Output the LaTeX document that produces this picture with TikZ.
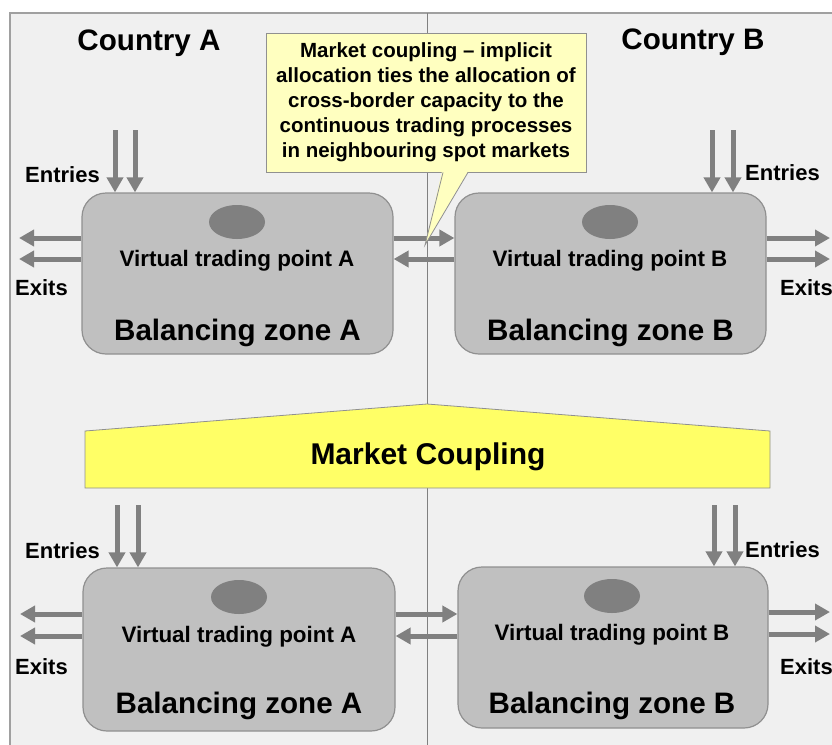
\documentclass[tikz,border=0pt]{standalone}
\usepackage{fontspec}
\setmainfont{Liberation Sans}
\usetikzlibrary{arrows.meta,shapes.geometric}
\definecolor{panel}{HTML}{F0F0F0}
\definecolor{framegray}{HTML}{A0A0A0}
\definecolor{zonefill}{HTML}{C0C0C0}
\definecolor{zoneline}{HTML}{909090}
\definecolor{darkgray}{HTML}{808080}
\definecolor{notefill}{HTML}{FFFFC0}
\definecolor{mcfill}{HTML}{FFFF66}
\begin{document}
\begin{tikzpicture}[x=1pt,y=-1pt,
  zone/.style={draw=zoneline,line width=1.2pt,fill=zonefill,rounded corners=24pt,
    minimum width=#1,minimum height=161pt,inner sep=0pt},
  vtp/.style={fill=darkgray,ellipse,minimum width=56pt,minimum height=34pt,inner sep=0pt},
  flow/.style={draw=darkgray,line width=5pt,-{Triangle[width=16pt,length=15pt]}},
  small/.style={font=\fontsize{22.4}{26}\selectfont\bfseries,inner sep=0pt},
  big/.style={font=\fontsize{29.6}{34}\selectfont\bfseries,inner sep=0pt},
]
\useasboundingbox (0,0) rectangle (832,744);
\fill[white] (0,0) rectangle (832,744);
% country panel and border between the countries
\fill[panel] (10,13) rectangle (834,746);
\draw[framegray,line width=1.2pt] (10,746) -- (10,13) -- (834,13);
\coordinate (divtop) at (427,13);
\coordinate (divbot) at (427,746);
\draw[darkgray,line width=0.9pt] (divtop) -- (divbot);

% market coupling banner
\draw[zoneline,line width=0.8pt,fill=mcfill] (85,431) -- (427,404) -- (770,431) -- (770,488) -- (85,488) -- cycle;
\node[big,font=\fontsize{30}{34}\selectfont\bfseries,anchor=base] (mc) at (428,464) {Market Coupling};

% titles
\node[big,anchor=base] (cA) at (149,50) {Country A};
\node[big,anchor=base] (cB) at (693,49) {Country B};

% balancing zones
\node[zone=311pt] (tA) at (237.5,273.5) {};
\node[zone=311pt] (tB) at (610.5,273.5) {};
\node[zone=312pt,minimum height=163pt] (bA) at (239,649.5) {};
\node[zone=310pt] (bB) at (613,647.5) {};

% virtual trading points
\node[vtp] (pA) at (237,222) {};
\node[vtp] (pB) at (610,222) {};
\node[vtp] (qA) at (239,597) {};
\node[vtp] (qB) at (612,596) {};

\node[small,anchor=base] (vA) at (237,266) {Virtual trading point A};
\node[small,anchor=base] (vB) at (610,266) {Virtual trading point B};
\node[small,anchor=base] (wA) at (239,642) {Virtual trading point A};
\node[small,anchor=base] (wB) at (612,640) {Virtual trading point B};

\node[big,anchor=base] (zA) at (237.5,340) {Balancing zone A};
\node[big,anchor=base] (zB) at (610.5,340) {Balancing zone B};
\node[big,anchor=base] (yA) at (239,713) {Balancing zone A};
\node[big,anchor=base] (yB) at (612,713) {Balancing zone B};

% entries
\coordinate (eA1) at (115,130); \coordinate (eA2) at (135,130);
\coordinate (eB1) at (712,130); \coordinate (eB2) at (733,130);
\coordinate (fA1) at (117,505); \coordinate (fA2) at (138,505);
\coordinate (fB1) at (714,505); \coordinate (fB2) at (735,505);
\foreach \c/\z in {eA1/tA,eA2/tA,eB1/tB,eB2/tB,fA1/bA,fA2/bA,fB1/bB,fB2/bB}
  \draw[flow] (\c) -- (\c |- \z.north);

\node[small,font=\fontsize{22}{26}\selectfont\bfseries,anchor=base west] (enA) at (25,182) {Entries};
\node[small,font=\fontsize{22}{26}\selectfont\bfseries,anchor=base west] (enB) at (745,180) {Entries};
\node[small,font=\fontsize{22}{26}\selectfont\bfseries,anchor=base west] (enC) at (25,558) {Entries};
\node[small,font=\fontsize{22}{26}\selectfont\bfseries,anchor=base west] (enD) at (745,557) {Entries};

% exits
\coordinate (xA1) at (19,238); \coordinate (xA2) at (19,259);
\coordinate (xB1) at (830,238); \coordinate (xB2) at (830,259);
\coordinate (yA1) at (20,614); \coordinate (yA2) at (20,636);
\coordinate (yB1) at (830,612); \coordinate (yB2) at (830,634);
\foreach \c/\z in {xA1/tA,xA2/tA,yA1/bA,yA2/bA}
  \draw[flow] (\c -| \z.west) -- (\c);
\foreach \c/\z in {xB1/tB,xB2/tB,yB1/bB,yB2/bB}
  \draw[flow] (\c -| \z.east) -- (\c);

\node[small,font=\fontsize{22}{26}\selectfont\bfseries,anchor=base west] (exA) at (15,295) {Exits};
\node[small,font=\fontsize{22}{26}\selectfont\bfseries,anchor=base west] (exB) at (780,295) {Exits};
\node[small,font=\fontsize{22}{26}\selectfont\bfseries,anchor=base west] (exC) at (15,674) {Exits};
\node[small,font=\fontsize{22}{26}\selectfont\bfseries,anchor=base west] (exD) at (780,674) {Exits};

% cross-border capacity between the zones
\draw[flow] (tA.east |- xA1) -- (tB.west |- xA1);
\draw[flow] (tB.west |- xA2) -- (tA.east |- xA2);
\draw[flow] (bA.east |- yA1) -- (bB.west |- yA1);
\draw[flow] (bB.west |- yA2) -- (bA.east |- yA2);

% explanatory note with its pointer
\node[draw=zoneline,line width=0.8pt,fill=notefill,minimum width=320pt,minimum height=139pt,
  inner sep=0pt,align=center,font=\fontsize{20.5}{25}\selectfont\bfseries] (note) at (426,102.5)
  {Market coupling -- implicit\\allocation ties the allocation of\\cross-border capacity to the\\continuous trading processes\\in neighbouring spot markets};
\coordinate (tip) at (425,245);
\fill[notefill] ([xshift=16pt,yshift=0.8pt]note.south) -- (tip) -- ([xshift=42pt,yshift=0.8pt]note.south) -- cycle;
\draw[zoneline,line width=0.8pt] ([xshift=17pt]note.south) -- (tip) -- ([xshift=42pt]note.south);
\end{tikzpicture}
\end{document}
